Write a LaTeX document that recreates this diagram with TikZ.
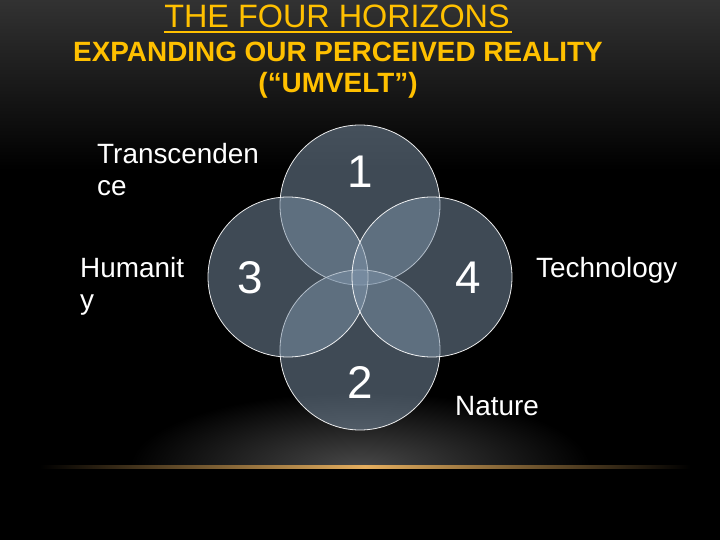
\documentclass[tikz,border=0pt]{standalone}
\usepackage{fontspec}
\setmainfont{Liberation Sans}
\definecolor{gold}{RGB}{255,192,0}
\definecolor{slate}{RGB}{126,148,170}
\definecolor{glow}{RGB}{230,175,95}
\definecolor{topgray}{RGB}{50,50,50}
\definecolor{haze}{RGB}{72,72,72}
\begin{document}
\begin{tikzpicture}[x=1bp,y=-1bp]
		\tikzstyle{Horizon} = [circle, minimum size=160bp, inner sep=0, draw=white, line width=0.8bp, fill=slate, fill opacity=0.5, draw opacity=0.9]
		\tikzstyle{Number} = [text=white, font=\fontsize{46}{50}\selectfont, anchor=base, inner sep=0]
		\tikzstyle{Caption} = [text=white, font=\fontsize{28}{32}\selectfont, anchor=north west, align=left, inner sep=0]
		\tikzstyle{Heading} = [text=gold, anchor=base, inner sep=0]
		
		% background
		\fill [black] (0,0) rectangle (720,540);
		\shade [top color=topgray, bottom color=black] (0,0) rectangle (720,170);
		\begin{scope}
			\clip (0,0) rectangle (720,467);
			\fill [inner color=haze, outer color=black] (360,467) ellipse [x radius=230, y radius=75];
		\end{scope}
		\shade [left color=black, right color=black, middle color=glow] (40,465.5) rectangle (690,468.5);
		
		% titles
		\node (title) [Heading, font=\fontsize{32.5}{36}\selectfont] at (337,28) {THE FOUR HORIZONS};
		\draw [gold, line width=2bp] ([yshift=-4bp]title.base west) -- ([yshift=-4bp, xshift=2bp]title.base east);
		\node (subtitle) [Heading, font=\bfseries\fontsize{28}{30}\selectfont] at (338,62) {EXPANDING OUR PERCEIVED REALITY};
		\node (umvelt) [Heading, font=\bfseries\fontsize{28}{30}\selectfont] at (338,93) {(“UMVELT”)};
		
		% the four circles
		\node (top) [Horizon] at (360,205) {};
		\node (bottom) [Horizon] at (360,350) {};
		\node (left) [Horizon] at (288,277) {};
		\node (right) [Horizon] at (432,277) {};
		
		\node (one) [Number] at (360,188) {1};
		\node (two) [Number] at (360,398) {2};
		\node (three) [Number] at (250,293) {3};
		\node (four) [Number] at (468,293) {4};
		
		% labels
		\node (transcendence) [Caption] at (97,143) {Transcenden\\ce};
		\node (humanity) [Caption] at (80,257) {Humanit\\y};
		\node (technology) [Caption, anchor=base west] at (536,278) {Technology};
		\node (nature) [Caption, anchor=base west] at (455,415) {Nature};
\end{tikzpicture}
\end{document}
